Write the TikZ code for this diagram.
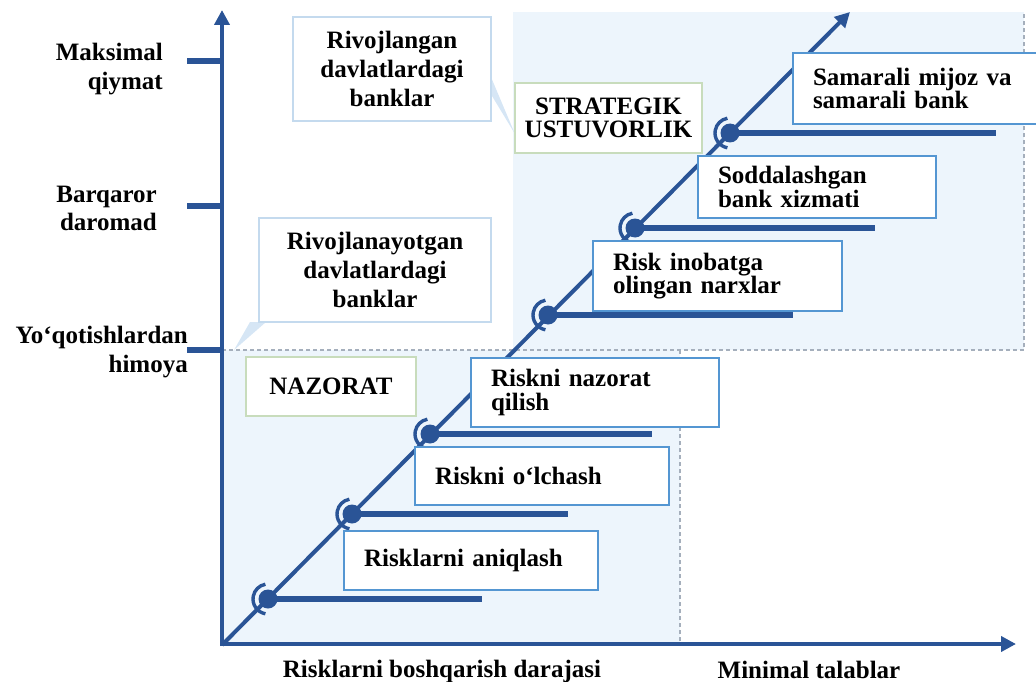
\documentclass[tikz,border=0pt]{standalone}
\usepackage{fontspec}
\setmainfont{Liberation Serif}
\usetikzlibrary{arrows.meta,calc}
\definecolor{axisblue}{RGB}{42,84,150}
\definecolor{boxblue}{RGB}{84,150,210}
\definecolor{paleblue}{RGB}{196,218,238}
\definecolor{palegreen}{RGB}{200,220,188}
\definecolor{bgblue}{RGB}{237,245,252}
\definecolor{dotgray}{RGB}{165,175,188}
\definecolor{tailblue}{RGB}{214,230,245}
\tikzset{
  axisline/.style={draw=axisblue,line width=4.5pt,-{Triangle[length=15pt,width=15pt]}},
  tickline/.style={draw=axisblue,line width=6pt},
  barline/.style={draw=axisblue,line width=6.5pt},
  dotfill/.style={fill=axisblue},
  bracket/.style={draw=axisblue,line width=3.4pt},
  guide/.style={draw=dotgray,line width=1.6pt,dash pattern=on 4pt off 3pt},
  txt/.style={font=\fontsize{25}{29}\selectfont\bfseries,inner sep=0pt},
  stepbox/.style={draw=boxblue,line width=2.4pt,fill=white,inner xsep=20pt,inner ysep=0pt,
     align=left,font=\fontsize{25}{23.5}\selectfont\bfseries},
  groupbox/.style={draw=paleblue,line width=2.4pt,fill=white,inner sep=0pt,align=center,
     font=\fontsize{25}{29}\selectfont\bfseries},
  zonebox/.style={draw=palegreen,line width=2pt,fill=white,inner sep=0pt,align=center,
     font=\fontsize{25}{23.5}\selectfont\bfseries},
}
\begin{document}
\begin{tikzpicture}[x=1pt,y=-1pt]
\useasboundingbox (0,0) rectangle (1036,682);
\clip (0,0) rectangle (1036,682);
% background zones
\fill[bgblue] (222,350) rectangle (680,644);
\fill[bgblue] (513,12) rectangle (1024,350);
\draw[guide] (222,350) -- (1024,350) -- (1024,14);
\draw[guide] (680,350) -- (680,644);
% callout tails
\fill[tailblue] (488,70) -- (492,96) -- (515,134) -- cycle;
\fill[tailblue] (250,322) -- (266,322) -- (234,350) -- cycle;
% axes
\coordinate (O) at (222,644);
\coordinate (Ytip) at (222,10);
\coordinate (Xtip) at (1016,644);
\coordinate (Dtip) at (850,12);
\coordinate (Dstart) at (222,645);
\draw[axisline] (222,646) -- (Ytip);
\draw[axisline] (220,644) -- (Xtip);
\draw[axisline,line width=4pt] (Dstart) -- (Dtip);
% ticks
\coordinate (t1a) at (187,61);  \coordinate (t1b) at (222,61);
\coordinate (t2a) at (187,206); \coordinate (t2b) at (222,206);
\coordinate (t3a) at (187,350); \coordinate (t3b) at (222,350);
\draw[tickline] (t1a) -- (t1b);
\draw[tickline] (t2a) -- (t2b);
\draw[tickline] (t3a) -- (t3b);
% y labels
\node[txt,anchor=base east] (lmax1) at (163,61) {Maksimal};
\node[txt,anchor=base east] (lmax2) at (163,90) {qiymat};
\node[txt,anchor=base east] (lbar1) at (157,202) {Barqaror};
\node[txt,anchor=base east] (lbar2) at (157,230) {daromad};
\node[txt,anchor=base east] (lyo1) at (188,343) {Yo‘qotishlardan};
\node[txt,anchor=base east] (lyo2) at (188,372) {himoya};
% x labels
\node[txt,anchor=base] (lx1) at (442,677) {Risklarni boshqarish darajasi};
\node[txt,anchor=base] (lx2) at (809,678) {Minimal talablar};
% steps: dots and bars
\foreach \i/\x/\y/\e in {1/268/599/482, 2/352/514/568, 3/430/434/652, 4/548/315/793, 5/635/228/875, 6/730/133/996}{
  \coordinate (d\i) at (\x,\y);
  \coordinate (e\i) at (\e,\y);
  \draw[barline] (d\i) -- (e\i);
  \draw[bracket] ($(d\i)+(100:15)$) arc[start angle=100,end angle=260,radius=15];
  \fill[dotfill] (d\i) circle[radius=9.5];
}
% group boxes
\node[groupbox,minimum width=198pt,minimum height=104pt] (riv) at (392,69)
  {Rivojlangan\\davlatlardagi\\banklar};
\node[groupbox,minimum width=232pt,minimum height=104pt] (rivy) at (375,270)
  {Rivojlanayotgan\\davlatlardagi\\banklar};
\node[zonebox,minimum width=187pt,minimum height=70pt] (strat) at (608.5,118)
  {STRATEGIK\\USTUVORLIK};
\node[zonebox,minimum width=170pt,minimum height=59pt] (naz) at (331,386.5)
  {NAZORAT};
% step boxes
\node[stepbox,text width=214pt,minimum height=59pt] (s1) at (471,560.5)
  {Risklarni aniqlash};
\node[stepbox,text width=214pt,minimum height=58pt] (s2) at (542,476)
  {Riskni o‘lchash};
\node[stepbox,text width=208pt,minimum height=69pt] (s3) at (595,392.5)
  {Riskni nazorat\\qilish};
\node[stepbox,text width=209pt,minimum height=70pt] (s4) at (717.5,276)
  {Risk inobatga\\olingan narxlar};
\node[stepbox,text width=198pt,minimum height=62pt] (s5) at (817,187)
  {Soddalashgan\\bank xizmati};
\node[stepbox,text width=212pt,minimum height=71pt] (s6) at (919,88.5)
  {Samarali mijoz va\\samarali bank};
\end{tikzpicture}
\end{document}
